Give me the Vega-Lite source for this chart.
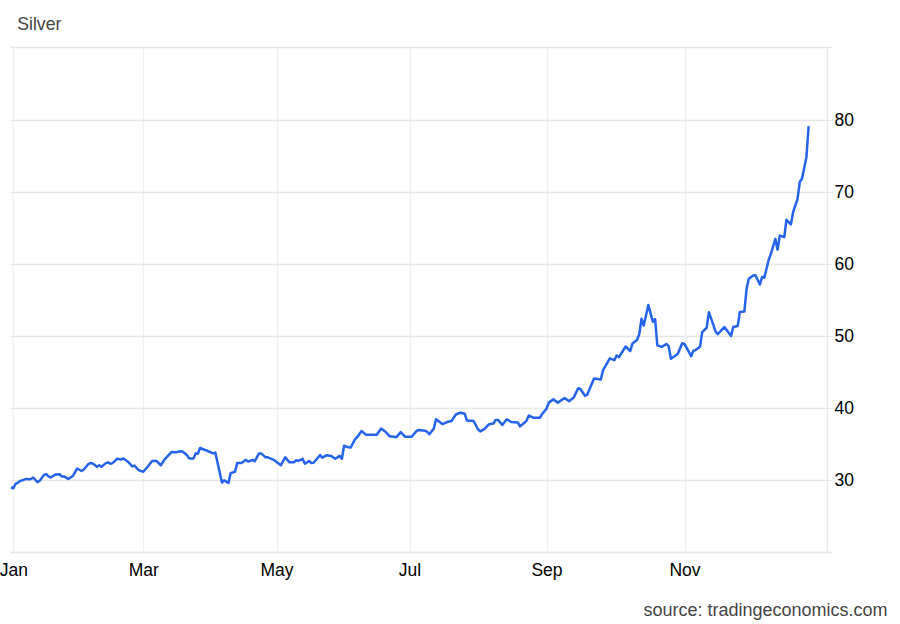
{
  "$schema": "https://vega.github.io/schema/vega-lite/v5.json",
  "autosize": "none",
  "padding": {"left": 10, "top": 47, "right": 73, "bottom": 72},
  "width": 817,
  "height": 505,
  "background": "white",
  "title": {"text": "Silver", "anchor": "start", "dx": 18, "offset": 13, "font": "Liberation Sans", "fontSize": 17.7, "fontWeight": "normal", "color": "#444444"},
  "view": {"stroke": null},
  "data": {"values": [
    {"date":"2024-12-31","price":29.0},{"date":"2025-01-01","price":28.9},{"date":"2025-01-02","price":29.5},{"date":"2025-01-03","price":29.65},{"date":"2025-01-04","price":29.9},{"date":"2025-01-06","price":30.1},{"date":"2025-01-07","price":30.2},{"date":"2025-01-08","price":30.15},{"date":"2025-01-09","price":30.2},{"date":"2025-01-10","price":30.4},{"date":"2025-01-12","price":29.75},{"date":"2025-01-13","price":29.95},{"date":"2025-01-15","price":30.8},{"date":"2025-01-16","price":30.85},{"date":"2025-01-17","price":30.55},{"date":"2025-01-18","price":30.4},{"date":"2025-01-19","price":30.6},{"date":"2025-01-20","price":30.8},{"date":"2025-01-22","price":30.85},{"date":"2025-01-23","price":30.55},{"date":"2025-01-24","price":30.55},{"date":"2025-01-26","price":30.2},{"date":"2025-01-28","price":30.6},{"date":"2025-01-30","price":31.65},
    {"date":"2025-02-01","price":31.3},{"date":"2025-02-02","price":31.5},{"date":"2025-02-04","price":32.25},{"date":"2025-02-05","price":32.4},{"date":"2025-02-06","price":32.35},{"date":"2025-02-08","price":31.9},{"date":"2025-02-09","price":32.1},{"date":"2025-02-10","price":31.9},{"date":"2025-02-12","price":32.4},{"date":"2025-02-13","price":32.5},{"date":"2025-02-14","price":32.3},{"date":"2025-02-15","price":32.4},{"date":"2025-02-16","price":32.65},{"date":"2025-02-17","price":33.0},{"date":"2025-02-19","price":32.9},{"date":"2025-02-20","price":33.05},{"date":"2025-02-22","price":32.6},{"date":"2025-02-24","price":31.95},{"date":"2025-02-25","price":32.05},{"date":"2025-02-27","price":31.4},
    {"date":"2025-03-01","price":31.2},{"date":"2025-03-03","price":31.9},{"date":"2025-03-05","price":32.7},{"date":"2025-03-07","price":32.7},{"date":"2025-03-09","price":32.1},{"date":"2025-03-11","price":33.0},{"date":"2025-03-14","price":33.95},{"date":"2025-03-16","price":33.9},{"date":"2025-03-18","price":34.05},{"date":"2025-03-19","price":34.0},{"date":"2025-03-21","price":33.5},{"date":"2025-03-22","price":33.05},{"date":"2025-03-24","price":33.05},{"date":"2025-03-25","price":33.75},{"date":"2025-03-26","price":33.7},{"date":"2025-03-27","price":34.5},{"date":"2025-03-29","price":34.25},{"date":"2025-03-30","price":34.15},
    {"date":"2025-04-02","price":33.75},{"date":"2025-04-03","price":33.85},{"date":"2025-04-06","price":29.7},{"date":"2025-04-07","price":30.0},{"date":"2025-04-09","price":29.65},{"date":"2025-04-10","price":31.0},{"date":"2025-04-12","price":31.2},{"date":"2025-04-13","price":32.4},{"date":"2025-04-15","price":32.4},{"date":"2025-04-17","price":32.85},{"date":"2025-04-18","price":32.6},{"date":"2025-04-20","price":32.85},{"date":"2025-04-21","price":32.65},{"date":"2025-04-23","price":33.75},{"date":"2025-04-24","price":33.75},{"date":"2025-04-26","price":33.2},{"date":"2025-04-27","price":33.2},{"date":"2025-04-30","price":32.8},
    {"date":"2025-05-03","price":32.1},{"date":"2025-05-05","price":33.2},{"date":"2025-05-07","price":32.5},{"date":"2025-05-09","price":32.5},{"date":"2025-05-10","price":32.8},{"date":"2025-05-11","price":32.7},{"date":"2025-05-13","price":33.0},{"date":"2025-05-14","price":32.3},{"date":"2025-05-16","price":32.7},{"date":"2025-05-17","price":32.4},{"date":"2025-05-18","price":32.45},{"date":"2025-05-21","price":33.5},{"date":"2025-05-22","price":33.15},{"date":"2025-05-24","price":33.5},{"date":"2025-05-26","price":33.4},{"date":"2025-05-28","price":33.0},{"date":"2025-05-30","price":33.4},{"date":"2025-05-31","price":33.0},
    {"date":"2025-06-01","price":34.8},{"date":"2025-06-03","price":34.6},{"date":"2025-06-04","price":34.55},{"date":"2025-06-06","price":35.7},{"date":"2025-06-07","price":36.0},{"date":"2025-06-09","price":36.85},{"date":"2025-06-11","price":36.35},{"date":"2025-06-16","price":36.35},{"date":"2025-06-18","price":37.2},{"date":"2025-06-20","price":36.75},{"date":"2025-06-22","price":36.1},{"date":"2025-06-23","price":36.1},{"date":"2025-06-25","price":36.0},{"date":"2025-06-27","price":36.7},{"date":"2025-06-29","price":36.05},
    {"date":"2025-07-02","price":36.05},{"date":"2025-07-04","price":36.8},{"date":"2025-07-05","price":37.0},{"date":"2025-07-08","price":36.9},{"date":"2025-07-09","price":36.75},{"date":"2025-07-10","price":36.4},{"date":"2025-07-12","price":37.2},{"date":"2025-07-13","price":38.5},{"date":"2025-07-16","price":37.8},{"date":"2025-07-18","price":38.1},{"date":"2025-07-20","price":38.25},{"date":"2025-07-22","price":39.15},{"date":"2025-07-24","price":39.4},{"date":"2025-07-26","price":39.25},{"date":"2025-07-27","price":38.3},{"date":"2025-07-30","price":38.25},
    {"date":"2025-08-01","price":37.1},{"date":"2025-08-02","price":36.8},{"date":"2025-08-04","price":37.15},{"date":"2025-08-06","price":37.8},{"date":"2025-08-08","price":37.9},{"date":"2025-08-09","price":38.4},{"date":"2025-08-10","price":38.4},{"date":"2025-08-12","price":37.7},{"date":"2025-08-14","price":38.5},{"date":"2025-08-16","price":38.1},{"date":"2025-08-19","price":38.05},{"date":"2025-08-20","price":37.5},{"date":"2025-08-22","price":38.0},{"date":"2025-08-23","price":38.3},{"date":"2025-08-24","price":39.0},{"date":"2025-08-26","price":38.7},{"date":"2025-08-29","price":38.7},{"date":"2025-08-30","price":39.2},
    {"date":"2025-09-01","price":39.95},{"date":"2025-09-02","price":40.8},{"date":"2025-09-04","price":41.25},{"date":"2025-09-06","price":40.8},{"date":"2025-09-09","price":41.45},{"date":"2025-09-11","price":41.0},{"date":"2025-09-13","price":41.5},{"date":"2025-09-15","price":42.8},{"date":"2025-09-16","price":42.7},{"date":"2025-09-18","price":41.75},{"date":"2025-09-19","price":41.9},{"date":"2025-09-22","price":44.15},{"date":"2025-09-25","price":44.0},{"date":"2025-09-26","price":45.3},{"date":"2025-09-29","price":46.95},
    {"date":"2025-10-01","price":46.7},{"date":"2025-10-02","price":47.35},{"date":"2025-10-03","price":47.1},{"date":"2025-10-06","price":48.6},{"date":"2025-10-08","price":47.95},{"date":"2025-10-09","price":49.0},{"date":"2025-10-11","price":49.5},{"date":"2025-10-12","price":50.3},{"date":"2025-10-13","price":52.45},{"date":"2025-10-14","price":51.5},{"date":"2025-10-16","price":54.35},{"date":"2025-10-18","price":52.05},{"date":"2025-10-19","price":52.4},{"date":"2025-10-20","price":48.75},{"date":"2025-10-22","price":48.55},{"date":"2025-10-24","price":48.95},{"date":"2025-10-25","price":48.65},{"date":"2025-10-26","price":46.9},{"date":"2025-10-29","price":47.55},{"date":"2025-10-31","price":49.05},
    {"date":"2025-11-01","price":48.95},{"date":"2025-11-04","price":47.25},{"date":"2025-11-05","price":48.0},{"date":"2025-11-06","price":48.1},{"date":"2025-11-08","price":48.55},{"date":"2025-11-09","price":50.6},{"date":"2025-11-11","price":51.2},{"date":"2025-11-12","price":53.35},{"date":"2025-11-13","price":52.5},{"date":"2025-11-15","price":50.7},{"date":"2025-11-16","price":50.3},{"date":"2025-11-19","price":51.3},{"date":"2025-11-22","price":50.05},{"date":"2025-11-23","price":51.3},{"date":"2025-11-25","price":51.45},{"date":"2025-11-26","price":53.4},{"date":"2025-11-28","price":53.45},{"date":"2025-11-29","price":56.6},{"date":"2025-11-30","price":58.0},
    {"date":"2025-12-02","price":58.45},{"date":"2025-12-03","price":58.5},{"date":"2025-12-05","price":57.2},{"date":"2025-12-06","price":58.25},{"date":"2025-12-07","price":58.15},{"date":"2025-12-09","price":60.65},{"date":"2025-12-10","price":61.5},{"date":"2025-12-12","price":63.55},{"date":"2025-12-13","price":62.05},{"date":"2025-12-14","price":64.0},{"date":"2025-12-16","price":63.8},{"date":"2025-12-17","price":66.2},{"date":"2025-12-19","price":65.55},{"date":"2025-12-20","price":67.25},{"date":"2025-12-22","price":69.1},{"date":"2025-12-23","price":71.45},{"date":"2025-12-24","price":71.9},{"date":"2025-12-26","price":74.9},{"date":"2025-12-27","price":79.2}
  ]},
  "mark": {"type": "line", "color": "#2563eb", "strokeWidth": 2.5, "strokeJoin": "round", "interpolate": "linear", "clip": true},
  "encoding": {
    "x": {
      "field": "date",
      "type": "temporal",
      "scale": {
        "type": "utc",
        "domain": {"expr": "[1735570800000, 1735689600000, 1740787200000, 1746057600000, 1751328000000, 1756684800000, 1761955200000, 1767510000000]"},
        "range": [0, 3.3, 133.3, 266.5, 399.5, 536.5, 674.5, 817]
      },
      "axis": {
        "values": [
          {"year": 2025, "month": 1, "date": 1, "utc": true},
          {"year": 2025, "month": 3, "date": 1, "utc": true},
          {"year": 2025, "month": 5, "date": 1, "utc": true},
          {"year": 2025, "month": 7, "date": 1, "utc": true},
          {"year": 2025, "month": 9, "date": 1, "utc": true},
          {"year": 2025, "month": 11, "date": 1, "utc": true}
        ],
        "format": "%b",
        "labelFont": "Liberation Sans",
        "labelFontSize": 17.5,
        "labelColor": "#000000",
        "labelPadding": 9,
        "labelFlush": false,
        "labelOverlap": false,
        "ticks": false,
        "grid": true,
        "gridColor": "#eef1f4",
        "gridWidth": 1.3,
        "domain": true,
        "domainColor": "#e6e6e6",
        "domainWidth": 1.3,
        "title": "source: tradingeconomics.com",
        "titleFont": "Liberation Sans",
        "titleFontSize": 18,
        "titleFontWeight": "normal",
        "titleColor": "#444444",
        "titleAnchor": "end",
        "titleAlign": "right",
        "titleX": 877,
        "titleY": 49
      }
    },
    "y": {
      "field": "price",
      "type": "quantitative",
      "scale": {"domain": [20.05, 90.2], "nice": false, "zero": false},
      "axis": {
        "orient": "right",
        "values": [20.05, 30, 40, 50, 60, 70, 80, 90.2],
        "labelExpr": "datum.value >= 30 && datum.value <= 80 ? datum.label : ''",
        "labelFont": "Liberation Sans",
        "labelFontSize": 17.5,
        "labelColor": "#000000",
        "labelPadding": 2,
        "ticks": true,
        "tickColor": "#e6e6e6",
        "tickSize": 5,
        "tickWidth": 1.3,
        "grid": true,
        "gridColor": "#e6e6e6",
        "gridWidth": 1.3,
        "domain": true,
        "domainColor": "#e6e6e6",
        "domainWidth": 1.3,
        "title": null
      }
    }
  },
  "config": {"style": {"cell": {"stroke": null}}}
}
